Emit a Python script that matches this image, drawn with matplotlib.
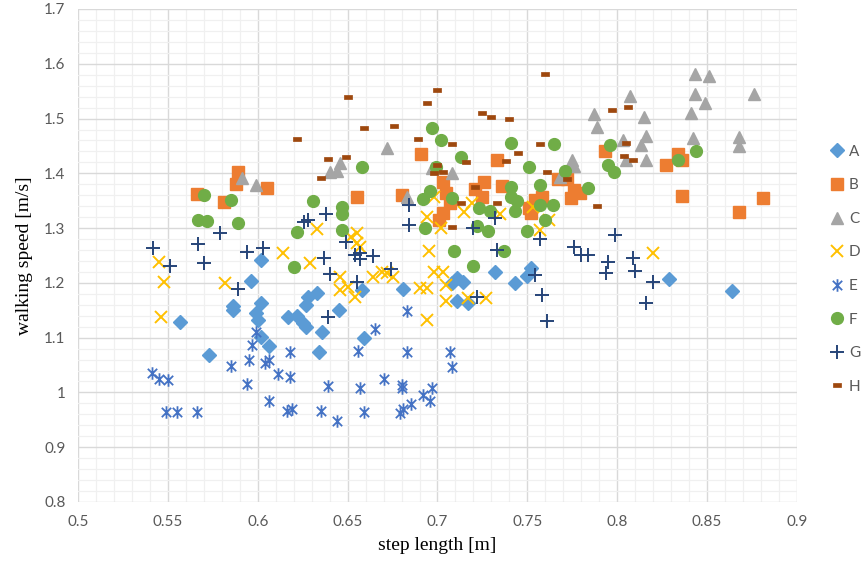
import matplotlib
matplotlib.use("Agg")
import matplotlib.pyplot as plt
from matplotlib.path import Path
from matplotlib.ticker import MultipleLocator

# ---------------- data ----------------
A_x = [0.557,0.573,0.596,0.586,0.586,0.602,0.599,0.600,0.602,0.602,0.606,0.628,0.633,0.627,0.617,0.622,0.625,0.627,0.636,0.634,0.645,0.659,0.658,0.681,0.711,0.714,0.708,0.711,0.717,0.732,0.743,0.750,0.752,0.829,0.864]
A_y = [1.129,1.069,1.204,1.158,1.151,1.242,1.145,1.133,1.163,1.102,1.084,1.175,1.182,1.160,1.138,1.140,1.127,1.120,1.111,1.073,1.151,1.100,1.187,1.189,1.209,1.202,1.200,1.167,1.164,1.220,1.200,1.213,1.227,1.207,1.185]

B_x = [0.589,0.588,0.566,0.581,0.605,0.655,0.680,0.691,0.733,0.703,0.705,0.703,0.701,0.707,0.726,0.721,0.725,0.736,0.754,0.758,0.751,0.752,0.767,0.772,0.776,0.779,0.774,0.793,0.827,0.834,0.836,0.836,0.868,0.881]
B_y = [1.402,1.380,1.362,1.347,1.373,1.356,1.360,1.436,1.425,1.384,1.365,1.327,1.315,1.345,1.384,1.372,1.356,1.376,1.351,1.356,1.336,1.327,1.390,1.389,1.369,1.365,1.355,1.441,1.415,1.436,1.424,1.358,1.329,1.355]

C_x = [0.591,0.599,0.672,0.640,0.646,0.644,0.683,0.697,0.708,0.787,0.789,0.775,0.776,0.768,0.803,0.807,0.815,0.816,0.813,0.805,0.816,0.843,0.851,0.843,0.849,0.841,0.842,0.876,0.868,0.868]
C_y = [1.391,1.378,1.446,1.402,1.418,1.405,1.356,1.409,1.400,1.509,1.484,1.424,1.413,1.393,1.460,1.542,1.502,1.469,1.451,1.424,1.424,1.582,1.578,1.545,1.529,1.511,1.465,1.544,1.467,1.449]

D_x = [0.545,0.548,0.546,0.582,0.614,0.629,0.633,0.652,0.655,0.655,0.657,0.646,0.646,0.650,0.654,0.664,0.669,0.672,0.675,0.695,0.698,0.690,0.694,0.694,0.702,0.703,0.705,0.705,0.717,0.727,0.757,0.698,0.694,0.715,0.719,0.735,0.753,0.762,0.820]
D_y = [1.238,1.202,1.138,1.200,1.255,1.236,1.298,1.284,1.291,1.273,1.265,1.211,1.187,1.193,1.175,1.211,1.220,1.218,1.211,1.258,1.220,1.191,1.191,1.133,1.300,1.220,1.197,1.167,1.173,1.173,1.296,1.356,1.320,1.329,1.345,1.325,1.338,1.315,1.255]

E_x = [0.541,0.545,0.550,0.549,0.555,0.566,0.585,0.594,0.595,0.597,0.599,0.604,0.606,0.611,0.618,0.618,0.606,0.616,0.619,0.635,0.639,0.644,0.657,0.656,0.659,0.665,0.670,0.680,0.680,0.683,0.683,0.679,0.681,0.685,0.692,0.696,0.697,0.707,0.708]
E_y = [1.035,1.025,1.022,0.965,0.964,0.964,1.049,1.015,1.060,1.087,1.111,1.054,1.060,1.033,1.073,1.029,0.984,0.966,0.969,0.966,1.011,0.947,1.009,1.075,0.964,1.116,1.024,1.013,1.009,1.073,1.149,0.963,0.969,0.978,0.996,0.984,1.009,1.074,1.047]

F_x = [0.570,0.567,0.572,0.585,0.589,0.631,0.622,0.647,0.647,0.647,0.658,0.697,0.702,0.699,0.696,0.692,0.693,0.713,0.741,0.751,0.765,0.771,0.784,0.757,0.741,0.741,0.744,0.743,0.708,0.723,0.729,0.757,0.764,0.760,0.750,0.722,0.728,0.620,0.709,0.720,0.737,0.796,0.795,0.798,0.834,0.844]
F_y = [1.360,1.315,1.313,1.351,1.309,1.349,1.293,1.338,1.325,1.296,1.411,1.482,1.460,1.411,1.368,1.353,1.300,1.429,1.456,1.411,1.454,1.404,1.374,1.378,1.375,1.356,1.349,1.331,1.355,1.336,1.331,1.342,1.342,1.315,1.294,1.303,1.294,1.229,1.258,1.231,1.258,1.451,1.415,1.402,1.425,1.440]

G_x = [0.542,0.551,0.567,0.570,0.579,0.594,0.589,0.603,0.637,0.640,0.649,0.654,0.657,0.657,0.664,0.674,0.655,0.639,0.733,0.722,0.757,0.754,0.758,0.761,0.776,0.780,0.784,0.795,0.794,0.799,0.809,0.810,0.820,0.816,0.626,0.628,0.638,0.684,0.684,0.732,0.720]
G_y = [1.264,1.230,1.271,1.236,1.291,1.256,1.189,1.264,1.245,1.216,1.275,1.251,1.255,1.244,1.249,1.225,1.202,1.137,1.260,1.175,1.280,1.215,1.178,1.131,1.266,1.251,1.251,1.238,1.218,1.287,1.246,1.222,1.202,1.164,1.311,1.314,1.325,1.342,1.305,1.318,1.300]

H_x = [0.650,0.622,0.639,0.649,0.635,0.659,0.676,0.700,0.694,0.689,0.700,0.698,0.760,0.725,0.730,0.740,0.708,0.716,0.757,0.745,0.738,0.703,0.761,0.772,0.721,0.733,0.713,0.708,0.789,0.797,0.806,0.805,0.804,0.809]
H_y = [1.540,1.462,1.427,1.429,1.391,1.482,1.487,1.553,1.529,1.462,1.415,1.400,1.582,1.511,1.502,1.500,1.453,1.420,1.453,1.438,1.422,1.402,1.402,1.389,1.375,1.345,1.345,1.302,1.340,1.516,1.521,1.456,1.431,1.425]

labels = ["A", "B", "C", "D", "E", "F", "G", "H"]
x_ticks = [0.5, 0.55, 0.6, 0.65, 0.7, 0.75, 0.8, 0.85, 0.9]
y_ticks = [0.8, 0.9, 1.0, 1.1, 1.2, 1.3, 1.4, 1.5, 1.6, 1.7]

# ---------------- markers ----------------
star_path = Path(
    [(0, -1), (0, 1), (-0.75, -0.75), (0.75, 0.75), (-0.75, 0.75), (0.75, -0.75)],
    [Path.MOVETO, Path.LINETO, Path.MOVETO, Path.LINETO, Path.MOVETO, Path.LINETO])
dash_path = Path(
    [(-1, -0.45), (1, -0.45), (1, 0.45), (-1, 0.45), (-1, -0.45)],
    [Path.MOVETO, Path.LINETO, Path.LINETO, Path.LINETO, Path.CLOSEPOLY])

styles = [
    dict(marker="D", ms=7, color="#5B9BD5", mec="#5B9BD5"),
    dict(marker="s", ms=8, color="#ED7D31", mec="#ED7D31"),
    dict(marker="^", ms=9, color="#A5A5A5", mec="#A5A5A5"),
    dict(marker="x", ms=8, color="#FFC000", mec="#FFC000", mew=1.4),
    dict(marker=star_path, ms=9, color="#4472C4", mec="#4472C4", mew=1.3),
    dict(marker="o", ms=8.5, color="#70AD47", mec="#70AD47"),
    dict(marker="+", ms=9.5, color="#264478", mec="#264478", mew=1.4),
    dict(marker=dash_path, ms=6, color="#9E480E", mec="#9E480E", mew=0.5),
]

series = [(A_x, A_y), (B_x, B_y), (C_x, C_y), (D_x, D_y),
          (E_x, E_y), (F_x, F_y), (G_x, G_y), (H_x, H_y)]

fig = plt.figure(figsize=(8.62, 5.69), dpi=100)
ax = fig.add_axes([78/862, 1 - 502/569, (797-78)/862, (502-9)/569])

handles = []
for (xs, ys), lab, st in zip(series, labels, styles):
    h, = ax.plot(xs, ys, linestyle="none", label=lab, zorder=3, **st)
    handles.append(h)

ax.set_xlim(0.5, 0.9)
ax.set_ylim(0.8, 1.7)
ax.set_xticks(x_ticks)
ax.set_yticks(y_ticks)
ax.set_xticklabels([f"{v:g}" for v in x_ticks])
ax.set_yticklabels([f"{v:g}" for v in y_ticks])
ax.xaxis.set_minor_locator(MultipleLocator(0.01))
ax.yaxis.set_minor_locator(MultipleLocator(0.02))
ax.grid(which="minor", color="#F0F0F0", linewidth=0.9, zorder=0)
ax.grid(which="major", color="#D9D9D9", linewidth=1.0, zorder=1)
ax.set_axisbelow(True)
for s in ax.spines.values():
    s.set_visible(False)
ax.tick_params(which="both", length=0)
ax.tick_params(axis="x", pad=9, labelsize=11, labelcolor="#595959")
ax.tick_params(axis="y", pad=9, labelsize=11, labelcolor="#595959")
for t in ax.get_xticklabels() + ax.get_yticklabels():
    t.set_fontfamily("Lato")

ax.set_xlabel("step length [m]", fontfamily="Liberation Serif", fontsize=14, labelpad=6)
ax.set_ylabel("walking speed [m/s]", fontfamily="Liberation Serif", fontsize=14, labelpad=8)

leg = fig.legend(handles=handles, labels=labels, loc="upper left",
                 bbox_to_anchor=(816/862, 1 - 131/569), frameon=False,
                 handlelength=0.9, handletextpad=0.35, labelspacing=1.28,
                 borderpad=0.4, prop={"family": "Lato", "size": 11})
for t in leg.get_texts():
    t.set_color("#595959")

fig.savefig("out.png", dpi=100)
